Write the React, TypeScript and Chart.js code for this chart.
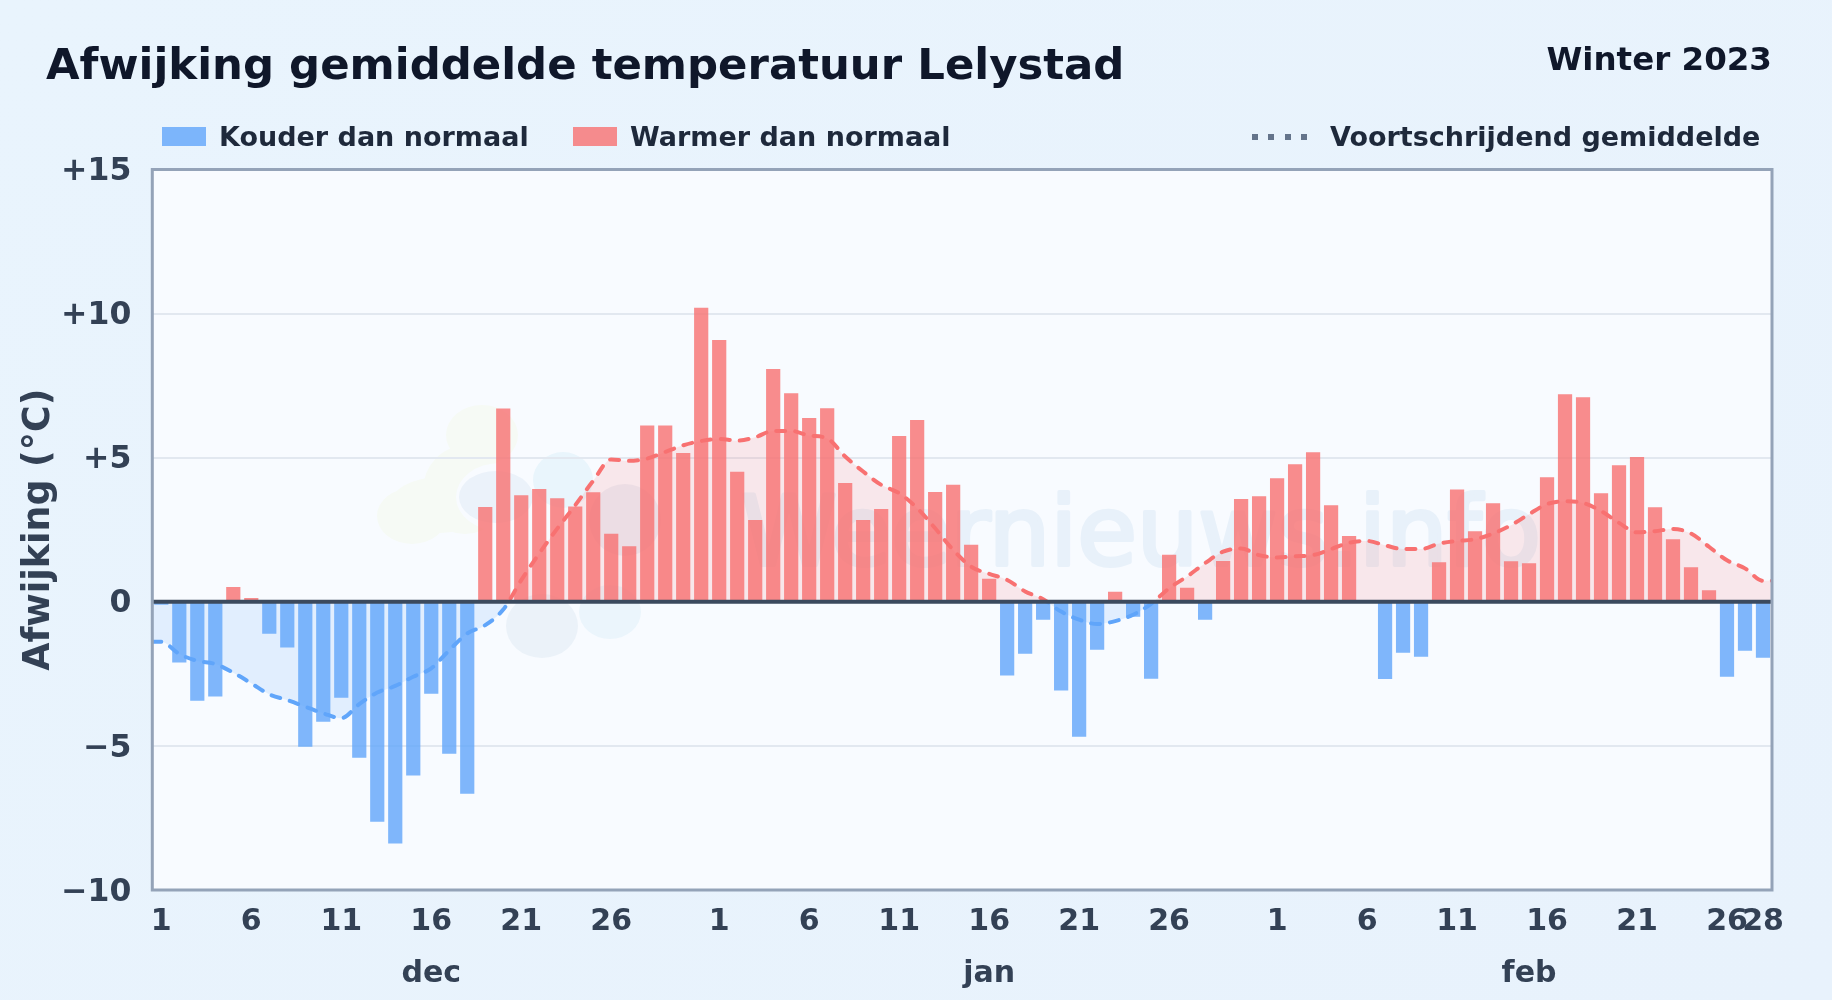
import React, { useEffect, useRef } from "react";
import { Chart, registerables } from "chart.js";

Chart.register(...registerables);

const FONT = "'DejaVu Sans', sans-serif";

const decDev = [-0.1, -2.11, -3.43, -3.29, 0.51, 0.13, -1.11, -1.59, -5.03, -4.16, -3.33, -5.41, -7.63, -8.39, -6.03, -3.19, -5.27, -6.66, 3.29, 6.71, 3.7, 3.91, 3.59, 3.31, 3.8, 2.36, 1.93, 6.12, 6.12, 5.16, 10.2];
const janDev = [9.08, 4.51, 2.84, 8.08, 7.24, 6.38, 6.72, 4.12, 2.84, 3.22, 5.75, 6.31, 3.81, 4.06, 1.98, 0.8, -2.56, -1.8, -0.62, -3.08, -4.68, -1.66, 0.35, -0.52, -2.67, 1.63, 0.49, -0.62, 1.42, 3.57, 3.66];
const febDev = [4.29, 4.77, 5.19, 3.35, 2.28, 0, -2.68, -1.77, -1.91, 1.37, 3.9, 2.45, 3.42, 1.41, 1.34, 4.32, 7.2, 7.1, 3.77, 4.74, 5.02, 3.28, 2.17, 1.2, 0.4, -2.6, -1.7, -1.94];

const movingAvg = [
  -1.39, -1.81, -2.05, -2.16, -2.46, -2.83, -3.21, -3.41, -3.64, -3.87, -4.04, -3.55, -3.15, -2.92, -2.6, -2.31, -1.68, -1.1, -0.81, -0.27, 0.75, 1.68, 2.54, 3.35, 4.2, 4.94, 4.89, 4.97, 5.2, 5.43, 5.58,
  5.65, 5.59, 5.71, 5.93, 5.93, 5.77, 5.67, 5.04, 4.52, 4.06, 3.77, 3.25, 2.55, 1.8, 1.22, 0.97, 0.76, 0.36, 0.09, -0.34, -0.62, -0.77, -0.67, -0.45, -0.07, 0.47, 0.88, 1.34, 1.74, 1.85, 1.62,
  1.54, 1.58, 1.62, 1.83, 2.05, 2.11, 1.96, 1.83, 1.83, 2.02, 2.11, 2.17, 2.37, 2.66, 3.04, 3.39, 3.49, 3.43, 3.15, 2.74, 2.41, 2.45, 2.53, 2.37, 1.91, 1.44, 1.16, 0.73,
];

const dayLabels = [
  ...decDev.map((_, i) => String(i + 1)),
  ...janDev.map((_, i) => String(i + 1)),
  ...febDev.map((_, i) => String(i + 1)),
];
const shownDays = ["1", "6", "11", "16", "21", "26"];
const lastLabelIndex = dayLabels.length - 1;
const monthTicks = [
  { at: 15, label: "dec" },
  { at: 46, label: "jan" },
  { at: 76, label: "feb" },
];
const deviations = [...decDev, ...janDev, ...febDev];
const yTickText = (v: number) => (v > 0 ? `+${v}` : v < 0 ? `\u2212${-v}` : "0");

const ink = "#334155";

const frame = {
  id: "frame",
  beforeDraw(chart: any) {
    const { ctx, chartArea: a } = chart;
    ctx.save();
    ctx.fillStyle = "#f8fbff";
    ctx.fillRect(a.left, a.top, a.right - a.left, a.bottom - a.top);
    ctx.beginPath();
    ctx.rect(a.left, a.top, a.right - a.left, a.bottom - a.top);
    ctx.clip();
    const blob = (c: string, x: number, y: number, rx: number, ry: number, rot = 0) => {
      ctx.fillStyle = c;
      ctx.beginPath();
      ctx.ellipse(x, y, rx, ry, rot, 0, Math.PI * 2);
      ctx.fill();
    };
    const green = "#f6faf5";
    blob(green, 482, 435, 36, 30);
    blob(green, 412, 516, 35, 28);
    blob(green, 465, 490, 42, 44);
    blob(green, 440, 505, 50, 28);
    blob("#f8fbff", 500, 497, 44, 34);
    blob("#ebf2fa", 496, 497, 37, 26);
    blob("#e9f5fc", 563, 480, 30, 28);
    blob("#ebf2f9", 542, 626, 36, 32);
    blob("#ebf5fc", 610, 612, 31, 27);
    blob("#ebeff7", 625, 520, 36, 36);
    ctx.font = `400 97px ${FONT}`;
    ctx.fillStyle = "#e8f1fa";
    ctx.strokeStyle = "#e8f1fa";
    ctx.lineWidth = 4;
    ctx.lineJoin = "round";
    ctx.textAlign = "left";
    ctx.textBaseline = "alphabetic";
    ctx.fillText("Weernieuws.info", 741, 565);
    ctx.strokeText("Weernieuws.info", 741, 565);
    ctx.restore();
  },
  afterDatasetsDraw(chart: any) {
    const { ctx, chartArea: a, scales } = chart;
    const y0 = scales.y.getPixelForValue(0);
    ctx.save();
    ctx.strokeStyle = "#3b4a5e";
    ctx.lineWidth = 4;
    ctx.beginPath();
    ctx.moveTo(a.left, y0);
    ctx.lineTo(a.right, y0);
    ctx.stroke();
    ctx.strokeStyle = "#94a3b8";
    ctx.lineWidth = 3;
    ctx.strokeRect(a.left, a.top, a.right - a.left, a.bottom - a.top);
    ctx.restore();
  },
};

const lineColor = (ctx: any) => {
  const { chart } = ctx;
  const y = chart.scales.y;
  if (!chart.chartArea || !y) return "#f87171";
  const { top, bottom } = chart.chartArea;
  const g = chart.ctx.createLinearGradient(0, top, 0, bottom);
  const stop = (y.getPixelForValue(0) - top) / (bottom - top);
  g.addColorStop(0, "#f87171");
  g.addColorStop(stop, "#f87171");
  g.addColorStop(stop, "#60a5fa");
  g.addColorStop(1, "#60a5fa");
  return g;
};

export default function App() {
  const ref = useRef<HTMLCanvasElement>(null);
  useEffect(() => {
    const linePoints = [
      { x: -0.5, y: movingAvg[0] },
      ...movingAvg.map((y, x) => ({ x, y })),
      { x: lastLabelIndex + 0.5, y: movingAvg[lastLabelIndex] },
    ];
    const chart = new Chart(ref.current as HTMLCanvasElement, {
      data: {
        labels: dayLabels,
        datasets: [
          {
            type: "line",
            label: "Voortschrijdend gemiddelde",
            data: linePoints,
            xAxisID: "xm",
            order: 0,
            borderColor: lineColor,
            borderWidth: 4,
            borderDash: [9, 10],
            borderCapStyle: "round",
            pointRadius: 0,
            cubicInterpolationMode: "monotone",
            fill: { target: { value: 0 }, above: "rgba(248,113,113,0.14)", below: "rgba(96,165,250,0.15)" },
          },
          {
            type: "bar",
            label: "Kouder dan normaal",
            data: deviations.map((v) => (v < 0 ? v : null)),
            xAxisID: "x",
            order: 1,
            backgroundColor: "rgba(96,165,250,0.8)",
            grouped: false,
            barPercentage: 0.79,
            categoryPercentage: 1,
          },
          {
            type: "bar",
            label: "Warmer dan normaal",
            data: deviations.map((v) => (v > 0 ? v : null)),
            xAxisID: "x",
            order: 1,
            backgroundColor: "rgba(248,113,113,0.8)",
            grouped: false,
            barPercentage: 0.79,
            categoryPercentage: 1,
          },
        ],
      } as any,
      options: {
        animation: false,
        responsive: false,
        devicePixelRatio: 1,
        layout: { padding: { top: 169.5, right: 60, left: 0, bottom: 0 } },
        plugins: {
          legend: { display: false },
          title: { display: false },
          tooltip: { enabled: false },
          filler: { drawTime: "beforeDatasetsDraw" },
        },
        scales: {
          x: {
            type: "category",
            position: "bottom",
            offset: true,
            grid: { display: false, drawTicks: false },
            border: { display: false },
            afterFit: (s: any) => { s.height = 60; },
            ticks: {
              autoSkip: false,
              maxRotation: 0,
              minRotation: 0,
              padding: 14.5,
              color: ink,
              font: { family: FONT, size: 30, weight: "bold" },
              callback: (_: any, i: number) => {
                const d = dayLabels[i];
                return shownDays.includes(d) || i === lastLabelIndex ? d : null;
              },
            },
          },
          xm: {
            type: "linear",
            position: "bottom",
            min: -0.5,
            max: lastLabelIndex + 0.5,
            grid: { display: false, drawTicks: false },
            border: { display: false },
            afterFit: (s: any) => { s.height = 50; },
            afterBuildTicks: (s: any) => { s.ticks = monthTicks.map((m) => ({ value: m.at })); },
            ticks: {
              autoSkip: false,
              maxRotation: 0,
              minRotation: 0,
              padding: 6.5,
              color: ink,
              font: { family: FONT, size: 30, weight: "bold" },
              callback: (v: any) => monthTicks.find((m) => m.at === v)?.label ?? "",
            },
          },
          y: {
            min: -10,
            max: 15,
            afterFit: (s: any) => { s.width = 152.3; },
            border: { display: false },
            grid: { color: "#e2e8f0", lineWidth: 2, drawTicks: false },
            title: {
              display: true,
              text: "Afwijking (\u00B0C)",
              color: ink,
              font: { family: FONT, size: 36.4, weight: "bold" },
              padding: { top: 18, bottom: 0 },
            },
            ticks: {
              stepSize: 5,
              padding: 21,
              labelOffset: 2.5,
              color: ink,
              font: { family: FONT, size: 31.5, weight: "bold" },
              callback: (v: any) => yTickText(Number(v)),
            },
          },
        },
      },
      plugins: [frame],
    } as any);
    return () => chart.destroy();
  }, []);

  const text = (style: React.CSSProperties): React.CSSProperties => ({
    position: "absolute",
    whiteSpace: "nowrap",
    fontFamily: FONT,
    fontWeight: 700,
    ...style,
  });
  const swatch = (left: number, color: string): React.CSSProperties => ({
    position: "absolute",
    left,
    top: 127,
    width: 44,
    height: 19,
    background: color,
  });
  const legendText = { fontSize: 27, lineHeight: "26px", top: 124, color: "#1e293b" };

  return (
    <div style={{ position: "fixed", left: 0, top: 0, width: 1832, height: 1000, overflow: "hidden", background: "linear-gradient(135deg,#e9f4fd,#e8f2fc)" }}>
      <canvas ref={ref} width={1832} height={1000} style={{ position: "absolute", left: 0, top: 0, width: 1832, height: 1000 }} />
      <div style={text({ left: 46, top: 42, fontSize: 43.4, lineHeight: "44px", color: "#0f172a" })}>Afwijking gemiddelde temperatuur Lelystad</div>
      <div style={text({ right: 60, top: 43, fontSize: 32.5, lineHeight: "32px", color: "#0f172a" })}>Winter 2023</div>
      <div style={swatch(161.5, "rgba(96,165,250,0.8)")} />
      <div style={text({ ...legendText, left: 219 })}>Kouder dan normaal</div>
      <div style={swatch(573, "rgba(248,113,113,0.8)")} />
      <div style={text({ ...legendText, left: 630 })}>Warmer dan normaal</div>
      <div style={{ position: "absolute", left: 1252, top: 134, width: 55, height: 6, background: "repeating-linear-gradient(90deg,#64748b 0 6px,transparent 6px 16.3px)" }} />
      <div style={text({ ...legendText, left: 1330 })}>Voortschrijdend gemiddelde</div>
    </div>
  );
}
